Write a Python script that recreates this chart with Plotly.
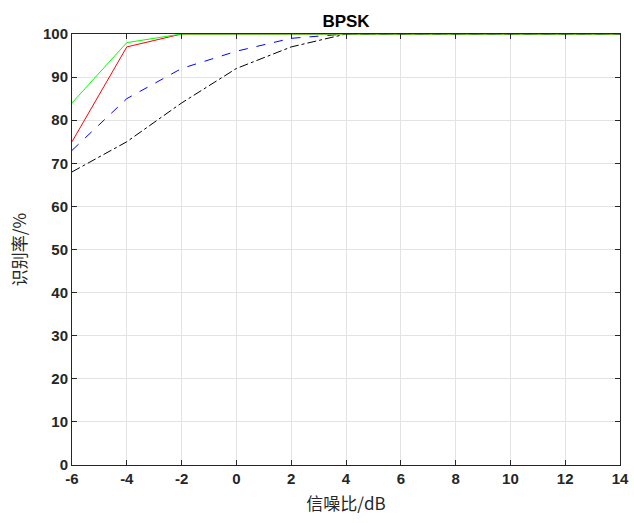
import plotly.graph_objects as go

snr = [-6, -4, -2, 0, 2, 4, 6, 8, 10, 12, 14]
green = [84, 98, 100, 100, 100, 100, 100, 100, 100, 100, 100]
red = [75, 97, 100, 100, 100, 100, 100, 100, 100, 100, 100]
blue = [73, 85, 92, 96, 99, 100, 100, 100, 100, 100, 100]
black = [68, 75, 84, 92, 97, 100, 100, 100, 100, 100, 100]

fig = go.Figure()
fig.add_trace(go.Scatter(x=snr, y=black, mode="lines", line=dict(color="black", width=1, dash="dashdot")))
fig.add_trace(go.Scatter(x=snr, y=blue, mode="lines", line=dict(color="#0000ff", width=1, dash="dash")))
fig.add_trace(go.Scatter(x=snr, y=red, mode="lines", line=dict(color="#ff0000", width=1)))
fig.add_trace(go.Scatter(x=snr, y=green, mode="lines", line=dict(color="#00ff00", width=1)))

axis_common = dict(
    showline=True, linecolor="#262626", linewidth=1, mirror="ticks",
    ticks="inside", ticklen=5, tickcolor="#262626",
    showgrid=True, gridcolor="#e3e3e3", gridwidth=1,
    zeroline=False, automargin=False,
    tickfont=dict(family="Liberation Sans, Arial", size=15, color="#262626", weight="bold"),
)

fig.update_layout(
    width=634, height=523,
    margin=dict(l=72, r=14, t=34, b=58),
    paper_bgcolor="white", plot_bgcolor="white",
    showlegend=False,
    title=dict(text="BPSK", x=0.5, xanchor="center", xref="paper", y=1, yref="paper",
               yanchor="bottom", pad=dict(b=7),
               font=dict(family="Liberation Sans, Arial", size=17, color="black", weight="bold")),
    xaxis=dict(range=[-6, 14], tickvals=snr, ticktext=[str(v) for v in snr],
               title=dict(text="信噪比/dB", standoff=12,
                          font=dict(family="Noto Sans CJK SC", size=17, color="#262626")),
               **axis_common),
    yaxis=dict(range=[0, 100], dtick=10,
               title=dict(text="识别率/%", standoff=12,
                          font=dict(family="Noto Sans CJK SC", size=17, color="#262626")),
               **axis_common),
)

fig.write_html("out.html")
